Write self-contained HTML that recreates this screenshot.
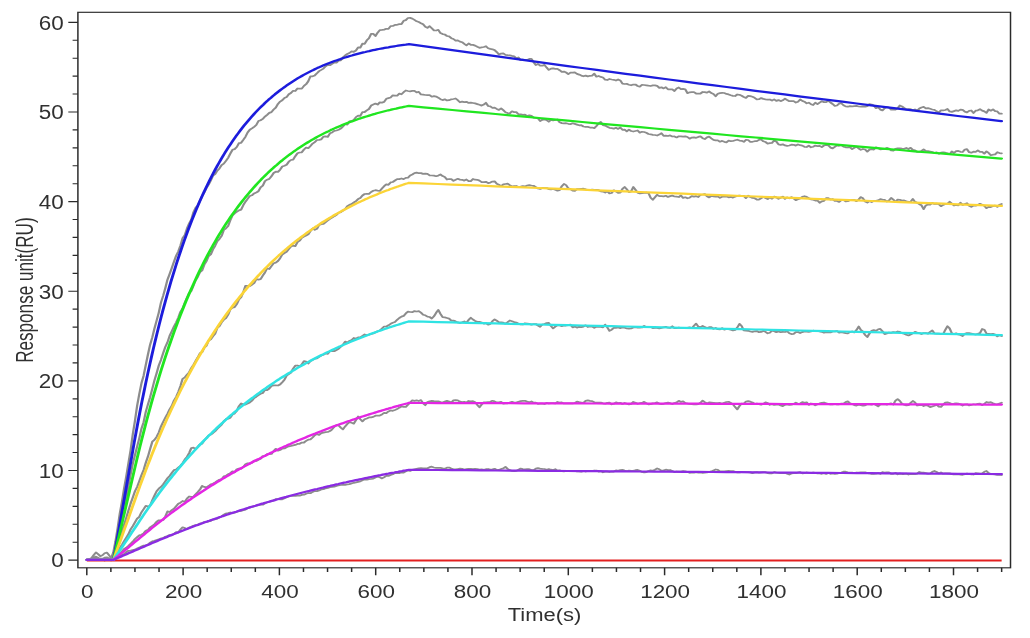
<!DOCTYPE html>
<html lang="en">
<head>
<meta charset="utf-8">
<title>Response unit(RU) vs Time(s)</title>
<style>
html,body{margin:0;padding:0;background:#fff;}
body{width:1030px;height:638px;overflow:hidden;}
svg{display:block;}
</style>
</head>
<body>
<svg width="1030" height="638" viewBox="0 0 1030 638">
<rect width="1030" height="638" fill="#fff"/>
<g>
<g transform="scale(1.290,1)">
<g fill="none" stroke-linejoin="round" stroke-linecap="round">
<path d="M67.66,559.6 L69.34,559.2 L71.02,558.0 L72.70,555.0 L74.38,552.4 L76.06,554.1 L77.74,556.1 L79.42,555.3 L81.10,553.3 L82.78,552.6 L84.46,555.1 L86.14,558.0 L87.82,552.6 L89.50,541.5 L91.18,528.3 L92.85,513.7 L94.53,501.8 L96.21,488.3 L97.89,476.4 L99.57,463.0 L101.25,450.0 L102.93,434.3 L104.61,420.9 L106.29,405.9 L107.97,394.0 L109.65,383.3 L111.33,375.7 L113.01,365.0 L114.69,354.5 L116.37,344.7 L118.05,337.4 L119.73,328.5 L121.41,320.6 L123.09,312.6 L124.77,302.6 L126.45,295.9 L128.13,288.2 L129.81,279.7 L131.49,274.0 L133.17,267.9 L134.85,261.7 L136.53,255.8 L138.21,251.5 L139.89,245.4 L141.56,238.1 L143.24,235.1 L144.92,228.6 L146.60,223.6 L148.28,219.6 L149.96,212.3 L151.64,207.7 L153.32,205.4 L155.00,200.9 L156.68,196.1 L158.36,192.5 L160.04,187.9 L161.72,184.6 L163.40,180.4 L165.08,175.6 L166.76,174.0 L168.44,170.7 L170.12,168.4 L171.80,165.1 L173.48,163.6 L175.16,160.9 L176.84,157.8 L178.52,153.7 L180.20,149.8 L181.88,149.1 L183.56,147.0 L185.24,143.1 L186.92,142.8 L188.59,139.9 L190.27,136.8 L191.95,132.5 L193.63,129.7 L195.31,128.4 L196.99,126.8 L198.67,125.0 L200.35,121.0 L202.03,120.2 L203.71,118.9 L205.39,116.6 L207.07,114.8 L208.75,112.9 L210.43,112.1 L212.11,109.5 L213.79,107.6 L215.47,103.9 L217.15,101.6 L218.83,100.3 L220.51,98.0 L222.19,97.1 L223.87,94.3 L225.55,93.0 L227.23,90.8 L228.91,91.0 L230.59,88.5 L232.27,88.7 L233.95,88.6 L235.63,85.9 L237.30,84.2 L238.98,81.2 L240.66,76.3 L242.34,76.3 L244.02,75.4 L245.70,73.3 L247.38,71.1 L249.06,69.9 L250.74,68.6 L252.42,66.3 L254.10,64.8 L255.78,65.2 L257.46,63.9 L259.14,62.6 L260.82,62.6 L262.50,60.7 L264.18,60.4 L265.86,57.4 L267.54,55.5 L269.22,53.9 L270.90,53.0 L272.58,51.3 L274.26,51.8 L275.94,50.5 L277.62,47.3 L279.30,47.6 L280.98,43.7 L282.66,43.8 L284.34,40.3 L286.01,38.2 L287.69,33.9 L289.37,33.9 L291.05,36.0 L292.73,32.7 L294.41,30.1 L296.09,29.9 L297.77,29.6 L299.45,28.8 L301.13,28.9 L302.81,26.1 L304.49,26.0 L306.17,24.9 L307.85,24.8 L309.53,24.1 L311.21,24.1 L312.89,20.8 L314.57,20.1 L316.25,18.0 L317.93,17.9 L319.61,18.6 L321.29,19.9 L322.97,21.3 L324.65,22.0 L326.33,23.2 L328.01,24.3 L329.69,26.7 L331.37,27.9 L333.04,26.2 L334.72,28.3 L336.40,30.4 L338.08,30.5 L339.76,29.8 L341.44,33.1 L343.12,34.1 L344.80,34.5 L346.48,36.0 L348.16,36.3 L349.84,38.2 L351.52,39.0 L353.20,40.7 L354.88,40.4 L356.56,41.6 L358.24,42.2 L359.92,43.9 L361.60,45.4 L363.28,43.5 L364.96,44.8 L366.64,44.9 L368.32,45.6 L370.00,46.8 L371.68,47.8 L373.36,47.4 L375.04,47.0 L376.72,46.2 L378.40,48.2 L380.08,48.9 L381.75,49.3 L383.43,50.1 L385.11,52.1 L386.79,54.6 L388.47,53.6 L390.15,53.4 L391.83,54.8 L393.51,55.2 L395.19,55.4 L396.87,55.9 L398.55,56.3 L400.23,58.4 L401.91,57.4 L403.59,60.2 L405.27,59.7 L406.95,60.0 L408.63,59.9 L410.31,58.9 L411.99,58.9 L413.67,62.2 L415.35,65.0 L417.03,64.0 L418.71,65.7 L420.39,65.7 L422.07,64.9 L423.75,67.6 L425.43,69.9 L427.11,68.7 L428.79,68.4 L430.46,68.8 L432.14,68.9 L433.82,70.2 L435.50,71.9 L437.18,71.6 L438.86,72.5 L440.54,74.1 L442.22,72.7 L443.90,72.7 L445.58,72.4 L447.26,73.9 L448.94,74.6 L450.62,75.6 L452.30,76.3 L453.98,75.6 L455.66,76.4 L457.34,75.8 L459.02,75.6 L460.70,73.7 L462.38,76.7 L464.06,76.0 L465.74,76.9 L467.42,77.5 L469.10,79.7 L470.78,80.0 L472.46,79.0 L474.14,79.5 L475.82,79.8 L477.49,80.5 L479.17,79.5 L480.85,80.4 L482.53,83.6 L484.21,84.0 L485.89,83.9 L487.57,84.7 L489.25,85.3 L490.93,84.5 L492.61,84.5 L494.29,86.0 L495.97,86.7 L497.65,84.9 L499.33,85.0 L501.01,85.3 L502.69,85.7 L504.37,86.0 L506.05,85.4 L507.73,85.4 L509.41,85.9 L511.09,87.8 L512.77,87.3 L514.45,88.4 L516.13,87.2 L517.81,89.3 L519.49,89.4 L521.17,89.4 L522.85,91.0 L524.53,88.6 L526.20,87.5 L527.88,89.2 L529.56,88.9 L531.24,89.3 L532.92,93.2 L534.60,92.3 L536.28,92.2 L537.96,92.1 L539.64,93.5 L541.32,93.5 L543.00,93.5 L544.68,92.0 L546.36,92.1 L548.04,92.7 L549.72,91.3 L551.40,93.1 L553.08,94.0 L554.76,96.3 L556.44,93.8 L558.12,93.1 L559.80,92.8 L561.48,93.0 L563.16,93.9 L564.84,94.4 L566.52,95.3 L568.20,95.9 L569.88,96.0 L571.56,94.5 L573.24,94.8 L574.91,95.7 L576.59,97.0 L578.27,97.9 L579.95,95.9 L581.63,96.1 L583.31,96.8 L584.99,97.8 L586.67,99.4 L588.35,99.2 L590.03,98.1 L591.71,98.9 L593.39,99.3 L595.07,99.6 L596.75,99.5 L598.43,100.6 L600.11,99.4 L601.79,100.9 L603.47,100.1 L605.15,101.1 L606.83,100.3 L608.51,98.7 L610.19,100.0 L611.87,101.2 L613.55,101.0 L615.23,101.2 L616.91,102.6 L618.59,101.7 L620.27,99.5 L621.94,100.9 L623.62,101.7 L625.30,103.3 L626.98,102.7 L628.66,104.2 L630.34,105.0 L632.02,102.8 L633.70,104.1 L635.38,102.6 L637.06,101.3 L638.74,102.1 L640.42,102.2 L642.10,100.8 L643.78,102.5 L645.46,104.0 L647.14,105.9 L648.82,105.5 L650.50,103.6 L652.18,103.2 L653.86,105.2 L655.54,106.4 L657.22,106.7 L658.90,106.1 L660.58,106.3 L662.26,106.1 L663.94,105.9 L665.62,106.5 L667.30,106.6 L668.98,106.3 L670.65,106.6 L672.33,106.1 L674.01,104.2 L675.69,104.6 L677.37,105.5 L679.05,108.2 L680.73,107.3 L682.41,109.6 L684.09,110.4 L685.77,108.2 L687.45,107.1 L689.13,107.5 L690.81,109.6 L692.49,109.3 L694.17,109.6 L695.85,108.2 L697.53,105.5 L699.21,106.4 L700.89,108.0 L702.57,109.5 L704.25,109.2 L705.93,109.1 L707.61,110.3 L709.29,109.5 L710.97,110.6 L712.65,108.6 L714.33,107.5 L716.01,106.9 L717.69,108.4 L719.36,108.1 L721.04,108.8 L722.72,109.5 L724.40,109.9 L726.08,111.3 L727.76,112.4 L729.44,110.4 L731.12,110.4 L732.80,110.0 L734.48,108.9 L736.16,111.4 L737.84,111.9 L739.52,111.1 L741.20,110.4 L742.88,110.9 L744.56,109.6 L746.24,109.8 L747.92,111.6 L749.60,112.4 L751.28,110.9 L752.96,110.5 L754.64,113.0 L756.32,110.7 L758.00,110.3 L759.68,109.2 L761.36,110.6 L763.04,111.4 L764.72,112.9 L766.39,109.5 L768.07,110.7 L769.75,109.4 L771.43,111.2 L773.11,111.4 L774.79,113.7 L776.47,113.7" stroke="#8c8c8c" stroke-width="1.75"/>
<path d="M67.66,559.8 L69.34,559.5 L71.02,559.3 L72.70,557.6 L74.38,556.6 L76.06,557.8 L77.74,559.6 L79.42,559.3 L81.10,557.7 L82.78,557.3 L84.46,558.5 L86.14,560.4 L87.82,555.7 L89.50,547.3 L91.18,537.5 L92.85,526.9 L94.53,517.3 L96.21,507.6 L97.89,497.4 L99.57,486.1 L101.25,474.7 L102.93,463.9 L104.61,455.1 L106.29,446.6 L107.97,438.3 L109.65,428.7 L111.33,422.2 L113.01,411.9 L114.69,404.4 L116.37,397.2 L118.05,388.9 L119.73,380.4 L121.41,373.2 L123.09,365.5 L124.77,359.9 L126.45,353.2 L128.13,347.0 L129.81,342.4 L131.49,335.9 L133.17,331.3 L134.85,326.5 L136.53,322.6 L138.21,317.7 L139.89,311.8 L141.56,308.5 L143.24,302.7 L144.92,297.7 L146.60,293.1 L148.28,291.0 L149.96,285.8 L151.64,280.3 L153.32,276.8 L155.00,272.2 L156.68,270.4 L158.36,264.7 L160.04,261.2 L161.72,256.1 L163.40,254.4 L165.08,249.4 L166.76,245.8 L168.44,241.3 L170.12,238.9 L171.80,235.9 L173.48,230.0 L175.16,228.3 L176.84,225.9 L178.52,220.3 L180.20,215.4 L181.88,213.4 L183.56,211.7 L185.24,210.4 L186.92,209.6 L188.59,205.2 L190.27,201.7 L191.95,198.9 L193.63,196.0 L195.31,195.3 L196.99,193.4 L198.67,192.5 L200.35,191.2 L202.03,187.3 L203.71,185.7 L205.39,181.1 L207.07,179.7 L208.75,178.9 L210.43,176.3 L212.11,173.0 L213.79,171.7 L215.47,171.9 L217.15,169.7 L218.83,166.5 L220.51,165.7 L222.19,164.7 L223.87,161.7 L225.55,160.0 L227.23,159.6 L228.91,156.2 L230.59,153.3 L232.27,152.5 L233.95,152.3 L235.63,149.5 L237.30,147.6 L238.98,148.2 L240.66,146.0 L242.34,143.6 L244.02,142.1 L245.70,140.0 L247.38,139.8 L249.06,139.3 L250.74,136.6 L252.42,136.4 L254.10,136.8 L255.78,133.3 L257.46,132.4 L259.14,130.9 L260.82,130.5 L262.50,129.7 L264.18,128.6 L265.86,126.5 L267.54,124.0 L269.22,124.6 L270.90,121.4 L272.58,120.9 L274.26,119.9 L275.94,117.1 L277.62,115.7 L279.30,115.8 L280.98,112.0 L282.66,112.0 L284.34,110.4 L286.01,109.0 L287.69,105.6 L289.37,104.6 L291.05,103.6 L292.73,104.6 L294.41,102.4 L296.09,102.6 L297.77,101.9 L299.45,98.8 L301.13,98.1 L302.81,97.5 L304.49,95.3 L306.17,95.6 L307.85,95.7 L309.53,93.6 L311.21,94.3 L312.89,92.2 L314.57,90.5 L316.25,91.0 L317.93,91.3 L319.61,90.9 L321.29,90.8 L322.97,92.3 L324.65,91.9 L326.33,94.5 L328.01,94.7 L329.69,95.0 L331.37,95.2 L333.04,95.1 L334.72,96.7 L336.40,96.1 L338.08,96.6 L339.76,97.7 L341.44,99.2 L343.12,100.1 L344.80,99.3 L346.48,100.4 L348.16,100.2 L349.84,99.3 L351.52,99.0 L353.20,98.5 L354.88,100.2 L356.56,102.3 L358.24,101.6 L359.92,102.1 L361.60,101.8 L363.28,102.9 L364.96,102.6 L366.64,103.0 L368.32,103.4 L370.00,104.1 L371.68,104.8 L373.36,105.6 L375.04,104.6 L376.72,102.8 L378.40,106.0 L380.08,106.4 L381.75,107.8 L383.43,107.7 L385.11,108.9 L386.79,109.9 L388.47,108.4 L390.15,110.1 L391.83,112.2 L393.51,113.1 L395.19,113.4 L396.87,111.3 L398.55,112.1 L400.23,112.1 L401.91,114.2 L403.59,114.3 L405.27,114.9 L406.95,114.7 L408.63,116.0 L410.31,115.3 L411.99,115.8 L413.67,117.6 L415.35,117.9 L417.03,118.4 L418.71,121.0 L420.39,119.8 L422.07,119.3 L423.75,120.1 L425.43,121.7 L427.11,120.0 L428.79,120.4 L430.46,120.0 L432.14,119.5 L433.82,122.3 L435.50,123.1 L437.18,123.4 L438.86,123.2 L440.54,123.8 L442.22,124.1 L443.90,123.3 L445.58,123.9 L447.26,124.6 L448.94,125.3 L450.62,125.2 L452.30,126.5 L453.98,126.9 L455.66,126.9 L457.34,127.5 L459.02,127.5 L460.70,128.1 L462.38,126.0 L464.06,123.4 L465.74,122.0 L467.42,125.1 L469.10,125.6 L470.78,126.7 L472.46,127.8 L474.14,128.2 L475.82,128.6 L477.49,127.8 L479.17,128.9 L480.85,127.5 L482.53,129.8 L484.21,129.6 L485.89,131.4 L487.57,129.7 L489.25,131.0 L490.93,131.5 L492.61,131.0 L494.29,130.5 L495.97,132.6 L497.65,131.8 L499.33,132.0 L501.01,132.7 L502.69,134.0 L504.37,134.3 L506.05,134.9 L507.73,135.0 L509.41,135.5 L511.09,134.6 L512.77,133.2 L514.45,135.9 L516.13,135.7 L517.81,136.0 L519.49,135.4 L521.17,136.5 L522.85,136.4 L524.53,137.4 L526.20,136.3 L527.88,136.3 L529.56,136.7 L531.24,136.4 L532.92,137.0 L534.60,138.7 L536.28,137.6 L537.96,137.4 L539.64,137.8 L541.32,136.9 L543.00,136.3 L544.68,138.2 L546.36,139.1 L548.04,137.4 L549.72,136.6 L551.40,138.3 L553.08,139.8 L554.76,140.3 L556.44,140.4 L558.12,141.7 L559.80,140.9 L561.48,141.8 L563.16,142.3 L564.84,140.6 L566.52,141.2 L568.20,141.0 L569.88,140.3 L571.56,139.7 L573.24,140.6 L574.91,140.8 L576.59,141.8 L578.27,139.9 L579.95,140.0 L581.63,141.8 L583.31,141.8 L584.99,141.2 L586.67,141.2 L588.35,139.8 L590.03,139.5 L591.71,141.3 L593.39,142.0 L595.07,143.6 L596.75,143.2 L598.43,143.0 L600.11,140.4 L601.79,141.5 L603.47,144.4 L605.15,144.8 L606.83,144.3 L608.51,145.4 L610.19,145.8 L611.87,145.5 L613.55,144.7 L615.23,144.8 L616.91,145.6 L618.59,144.5 L620.27,145.2 L621.94,145.6 L623.62,146.8 L625.30,147.0 L626.98,145.7 L628.66,147.3 L630.34,146.7 L632.02,145.6 L633.70,146.1 L635.38,145.9 L637.06,147.1 L638.74,145.5 L640.42,144.8 L642.10,145.3 L643.78,147.6 L645.46,148.4 L647.14,146.8 L648.82,145.3 L650.50,145.8 L652.18,145.2 L653.86,146.7 L655.54,147.3 L657.22,147.5 L658.90,147.2 L660.58,149.1 L662.26,147.8 L663.94,146.7 L665.62,148.5 L667.30,149.8 L668.98,149.0 L670.65,149.5 L672.33,151.6 L674.01,149.7 L675.69,149.2 L677.37,149.6 L679.05,147.3 L680.73,148.0 L682.41,149.3 L684.09,149.2 L685.77,148.9 L687.45,147.9 L689.13,148.5 L690.81,150.5 L692.49,150.7 L694.17,148.8 L695.85,148.4 L697.53,148.3 L699.21,148.6 L700.89,148.8 L702.57,148.0 L704.25,149.0 L705.93,147.8 L707.61,149.9 L709.29,150.4 L710.97,151.9 L712.65,151.8 L714.33,151.0 L716.01,149.5 L717.69,150.9 L719.36,151.1 L721.04,151.5 L722.72,152.1 L724.40,153.0 L726.08,152.3 L727.76,153.7 L729.44,152.7 L731.12,152.3 L732.80,152.7 L734.48,153.4 L736.16,154.1 L737.84,151.4 L739.52,153.0 L741.20,151.1 L742.88,150.9 L744.56,151.8 L746.24,152.0 L747.92,149.6 L749.60,149.2 L751.28,152.2 L752.96,152.7 L754.64,151.7 L756.32,151.8 L758.00,150.3 L759.68,151.9 L761.36,151.8 L763.04,153.6 L764.72,151.4 L766.39,152.9 L768.07,155.3 L769.75,154.7 L771.43,154.4 L773.11,152.2 L774.79,153.1 L776.47,153.4" stroke="#8c8c8c" stroke-width="1.75"/>
<path d="M67.66,559.8 L69.34,559.7 L71.02,559.8 L72.70,558.8 L74.38,559.2 L76.06,559.1 L77.74,558.6 L79.42,559.8 L81.10,560.5 L82.78,559.8 L84.46,558.6 L86.14,559.4 L87.82,556.1 L89.50,549.6 L91.18,543.6 L92.85,538.5 L94.53,531.3 L96.21,524.7 L97.89,517.9 L99.57,510.5 L101.25,503.6 L102.93,497.5 L104.61,491.3 L106.29,487.0 L107.97,481.2 L109.65,475.2 L111.33,470.0 L113.01,462.7 L114.69,456.6 L116.37,449.0 L118.05,441.7 L119.73,439.9 L121.41,436.8 L123.09,432.5 L124.77,426.6 L126.45,422.0 L128.13,417.8 L129.81,413.8 L131.49,409.3 L133.17,405.9 L134.85,400.6 L136.53,397.1 L138.21,392.1 L139.89,385.9 L141.56,378.8 L143.24,377.4 L144.92,374.8 L146.60,372.4 L148.28,368.1 L149.96,364.8 L151.64,361.0 L153.32,357.5 L155.00,353.2 L156.68,352.1 L158.36,347.8 L160.04,345.7 L161.72,340.5 L163.40,339.2 L165.08,336.2 L166.76,333.8 L168.44,327.9 L170.12,326.1 L171.80,322.4 L173.48,319.7 L175.16,318.1 L176.84,314.7 L178.52,309.5 L180.20,307.7 L181.88,307.1 L183.56,304.1 L185.24,299.4 L186.92,297.3 L188.59,292.2 L190.27,285.8 L191.95,285.9 L193.63,286.0 L195.31,284.7 L196.99,283.2 L198.67,279.2 L200.35,279.6 L202.03,279.2 L203.71,275.6 L205.39,272.5 L207.07,268.2 L208.75,269.0 L210.43,266.1 L212.11,263.2 L213.79,262.6 L215.47,261.0 L217.15,258.2 L218.83,254.5 L220.51,253.0 L222.19,251.7 L223.87,249.1 L225.55,246.6 L227.23,245.6 L228.91,246.1 L230.59,242.2 L232.27,240.7 L233.95,237.9 L235.63,236.6 L237.30,235.5 L238.98,234.3 L240.66,231.0 L242.34,228.5 L244.02,229.8 L245.70,228.8 L247.38,225.0 L249.06,224.2 L250.74,224.0 L252.42,222.1 L254.10,220.4 L255.78,218.8 L257.46,217.6 L259.14,216.2 L260.82,214.9 L262.50,212.8 L264.18,212.1 L265.86,210.6 L267.54,209.1 L269.22,206.2 L270.90,204.9 L272.58,204.1 L274.26,202.5 L275.94,201.1 L277.62,199.1 L279.30,198.0 L280.98,195.5 L282.66,194.0 L284.34,193.9 L286.01,193.8 L287.69,192.0 L289.37,190.8 L291.05,190.2 L292.73,190.7 L294.41,190.9 L296.09,188.5 L297.77,186.2 L299.45,184.3 L301.13,184.8 L302.81,182.4 L304.49,182.0 L306.17,180.5 L307.85,179.1 L309.53,179.1 L311.21,178.5 L312.89,179.1 L314.57,177.9 L316.25,177.7 L317.93,175.4 L319.61,174.5 L321.29,173.1 L322.97,172.6 L324.65,173.2 L326.33,173.1 L328.01,173.9 L329.69,173.6 L331.37,173.8 L333.04,175.3 L334.72,175.5 L336.40,175.6 L338.08,176.2 L339.76,175.6 L341.44,174.5 L343.12,176.1 L344.80,177.0 L346.48,179.5 L348.16,179.0 L349.84,179.1 L351.52,180.9 L353.20,179.7 L354.88,178.8 L356.56,179.6 L358.24,179.8 L359.92,180.6 L361.60,179.5 L363.28,181.2 L364.96,181.1 L366.64,179.0 L368.32,179.7 L370.00,179.8 L371.68,180.6 L373.36,182.1 L375.04,182.1 L376.72,181.8 L378.40,183.1 L380.08,182.6 L381.75,181.6 L383.43,181.3 L385.11,183.8 L386.79,184.8 L388.47,186.1 L390.15,184.4 L391.83,184.0 L393.51,183.7 L395.19,185.2 L396.87,186.5 L398.55,186.1 L400.23,186.0 L401.91,187.0 L403.59,186.7 L405.27,186.2 L406.95,186.4 L408.63,185.5 L410.31,185.1 L411.99,185.5 L413.67,185.8 L415.35,187.1 L417.03,188.5 L418.71,188.9 L420.39,187.9 L422.07,188.0 L423.75,188.0 L425.43,189.1 L427.11,189.4 L428.79,188.9 L430.46,189.8 L432.14,190.6 L433.82,190.2 L435.50,186.2 L437.18,183.9 L438.86,185.1 L440.54,188.3 L442.22,189.1 L443.90,190.6 L445.58,190.8 L447.26,189.1 L448.94,189.1 L450.62,188.8 L452.30,188.7 L453.98,189.4 L455.66,190.0 L457.34,190.2 L459.02,189.7 L460.70,189.8 L462.38,189.8 L464.06,190.2 L465.74,191.3 L467.42,191.6 L469.10,192.5 L470.78,191.2 L472.46,193.4 L474.14,193.0 L475.82,190.3 L477.49,191.4 L479.17,192.8 L480.85,192.7 L482.53,188.9 L484.21,187.0 L485.89,189.2 L487.57,192.1 L489.25,191.4 L490.93,187.0 L492.61,189.7 L494.29,192.6 L495.97,193.4 L497.65,193.1 L499.33,193.0 L501.01,192.6 L502.69,193.0 L504.37,197.7 L506.05,199.8 L507.73,197.3 L509.41,194.8 L511.09,196.2 L512.77,196.2 L514.45,196.4 L516.13,195.8 L517.81,196.9 L519.49,196.1 L521.17,195.6 L522.85,196.5 L524.53,196.6 L526.20,197.0 L527.88,195.5 L529.56,197.9 L531.24,197.3 L532.92,198.3 L534.60,197.7 L536.28,196.1 L537.96,196.6 L539.64,196.2 L541.32,197.0 L543.00,194.8 L544.68,194.5 L546.36,194.1 L548.04,196.3 L549.72,197.4 L551.40,196.0 L553.08,196.4 L554.76,196.7 L556.44,196.4 L558.12,197.8 L559.80,196.7 L561.48,196.7 L563.16,196.4 L564.84,197.3 L566.52,196.8 L568.20,197.6 L569.88,196.6 L571.56,195.8 L573.24,195.6 L574.91,195.9 L576.59,195.9 L578.27,198.1 L579.95,195.7 L581.63,197.0 L583.31,197.9 L584.99,198.2 L586.67,199.5 L588.35,199.5 L590.03,198.3 L591.71,196.9 L593.39,198.1 L595.07,199.1 L596.75,197.4 L598.43,198.7 L600.11,196.6 L601.79,197.4 L603.47,198.8 L605.15,197.8 L606.83,196.6 L608.51,198.9 L610.19,197.4 L611.87,198.3 L613.55,197.2 L615.23,198.3 L616.91,200.2 L618.59,199.3 L620.27,198.4 L621.94,196.8 L623.62,196.2 L625.30,196.9 L626.98,198.2 L628.66,199.3 L630.34,199.7 L632.02,200.5 L633.70,200.5 L635.38,202.7 L637.06,201.4 L638.74,200.9 L640.42,198.1 L642.10,198.2 L643.78,199.5 L645.46,199.2 L647.14,200.9 L648.82,200.9 L650.50,201.9 L652.18,200.1 L653.86,199.9 L655.54,201.4 L657.22,201.2 L658.90,200.1 L660.58,199.9 L662.26,199.9 L663.94,201.2 L665.62,199.6 L667.30,197.1 L668.98,198.3 L670.65,201.5 L672.33,202.5 L674.01,201.0 L675.69,202.1 L677.37,200.8 L679.05,200.9 L680.73,200.4 L682.41,199.2 L684.09,199.6 L685.77,199.8 L687.45,201.5 L689.13,200.5 L690.81,197.9 L692.49,199.6 L694.17,201.9 L695.85,199.6 L697.53,199.8 L699.21,200.6 L700.89,200.4 L702.57,201.3 L704.25,201.9 L705.93,201.6 L707.61,199.0 L709.29,201.9 L710.97,202.7 L712.65,204.2 L714.33,205.3 L716.01,209.1 L717.69,205.4 L719.36,204.5 L721.04,204.5 L722.72,202.9 L724.40,203.9 L726.08,203.7 L727.76,204.1 L729.44,206.2 L731.12,204.9 L732.80,204.0 L734.48,203.9 L736.16,201.8 L737.84,203.7 L739.52,205.5 L741.20,204.9 L742.88,205.3 L744.56,202.7 L746.24,204.9 L747.92,204.0 L749.60,203.2 L751.28,205.7 L752.96,206.9 L754.64,205.5 L756.32,205.7 L758.00,205.0 L759.68,203.8 L761.36,204.7 L763.04,205.8 L764.72,208.2 L766.39,206.8 L768.07,207.1 L769.75,206.1 L771.43,205.6 L773.11,206.9 L774.79,204.7 L776.47,204.0" stroke="#8c8c8c" stroke-width="1.75"/>
<path d="M67.66,559.8 L69.34,559.6 L71.02,560.1 L72.70,560.0 L74.38,560.0 L76.06,559.7 L77.74,559.6 L79.42,559.6 L81.10,559.8 L82.78,559.6 L84.46,559.6 L86.14,560.1 L87.82,558.7 L89.50,556.0 L91.18,550.9 L92.85,548.0 L94.53,544.8 L96.21,541.1 L97.89,537.7 L99.57,534.2 L101.25,529.4 L102.93,526.2 L104.61,522.4 L106.29,518.7 L107.97,516.8 L109.65,512.3 L111.33,509.2 L113.01,505.8 L114.69,506.6 L116.37,505.7 L118.05,500.3 L119.73,495.6 L121.41,491.2 L123.09,488.7 L124.77,486.9 L126.45,484.4 L128.13,481.3 L129.81,478.3 L131.49,475.9 L133.17,473.0 L134.85,470.1 L136.53,469.5 L138.21,467.6 L139.89,465.8 L141.56,463.1 L143.24,459.5 L144.92,456.9 L146.60,453.1 L148.28,448.1 L149.96,447.7 L151.64,448.9 L153.32,446.7 L155.00,444.3 L156.68,443.6 L158.36,440.3 L160.04,437.9 L161.72,435.5 L163.40,434.5 L165.08,433.0 L166.76,431.2 L168.44,428.7 L170.12,426.6 L171.80,424.6 L173.48,421.4 L175.16,419.2 L176.84,418.7 L178.52,417.7 L180.20,414.5 L181.88,413.4 L183.56,410.7 L185.24,406.1 L186.92,403.5 L188.59,404.3 L190.27,404.6 L191.95,403.6 L193.63,402.5 L195.31,400.7 L196.99,398.0 L198.67,396.7 L200.35,395.1 L202.03,393.8 L203.71,393.0 L205.39,389.8 L207.07,390.1 L208.75,388.5 L210.43,386.0 L212.11,385.4 L213.79,385.4 L215.47,385.5 L217.15,384.4 L218.83,382.2 L220.51,379.7 L222.19,375.6 L223.87,374.2 L225.55,372.7 L227.23,368.6 L228.91,365.7 L230.59,365.5 L232.27,366.2 L233.95,364.5 L235.63,361.1 L237.30,361.5 L238.98,363.5 L240.66,361.0 L242.34,359.9 L244.02,358.6 L245.70,358.3 L247.38,356.9 L249.06,355.5 L250.74,354.7 L252.42,353.4 L254.10,353.9 L255.78,351.1 L257.46,350.9 L259.14,351.2 L260.82,350.1 L262.50,348.8 L264.18,346.7 L265.86,344.7 L267.54,341.6 L269.22,342.6 L270.90,340.9 L272.58,340.0 L274.26,338.0 L275.94,338.7 L277.62,337.4 L279.30,337.4 L280.98,335.9 L282.66,334.5 L284.34,335.0 L286.01,334.6 L287.69,334.0 L289.37,333.5 L291.05,332.3 L292.73,331.2 L294.41,330.5 L296.09,328.5 L297.77,326.5 L299.45,326.4 L301.13,325.3 L302.81,323.8 L304.49,322.7 L306.17,322.0 L307.85,319.8 L309.53,318.0 L311.21,316.6 L312.89,315.9 L314.57,313.4 L316.25,311.6 L317.93,312.0 L319.61,312.2 L321.29,311.1 L322.97,311.5 L324.65,311.1 L326.33,312.6 L328.01,314.7 L329.69,315.3 L331.37,316.7 L333.04,317.0 L334.72,318.5 L336.40,316.3 L338.08,312.8 L339.76,309.9 L341.44,313.9 L343.12,317.2 L344.80,317.4 L346.48,318.0 L348.16,318.6 L349.84,320.6 L351.52,320.6 L353.20,321.4 L354.88,322.4 L356.56,323.0 L358.24,322.3 L359.92,321.4 L361.60,322.8 L363.28,319.9 L364.96,317.8 L366.64,319.5 L368.32,320.9 L370.00,321.8 L371.68,321.9 L373.36,322.6 L375.04,323.6 L376.72,323.1 L378.40,324.7 L380.08,323.9 L381.75,321.1 L383.43,319.4 L385.11,320.7 L386.79,322.4 L388.47,322.3 L390.15,322.7 L391.83,323.7 L393.51,322.2 L395.19,320.5 L396.87,321.2 L398.55,322.1 L400.23,322.5 L401.91,323.7 L403.59,324.4 L405.27,324.5 L406.95,323.3 L408.63,323.5 L410.31,323.9 L411.99,324.7 L413.67,324.0 L415.35,324.0 L417.03,325.5 L418.71,326.8 L420.39,324.5 L422.07,324.0 L423.75,323.1 L425.43,322.9 L427.11,326.1 L428.79,328.4 L430.46,326.7 L432.14,325.3 L433.82,325.5 L435.50,326.1 L437.18,325.5 L438.86,325.5 L440.54,325.1 L442.22,324.6 L443.90,327.4 L445.58,326.5 L447.26,327.6 L448.94,326.8 L450.62,327.1 L452.30,326.6 L453.98,325.3 L455.66,327.0 L457.34,326.5 L459.02,326.5 L460.70,327.8 L462.38,326.8 L464.06,326.6 L465.74,327.0 L467.42,327.4 L469.10,324.6 L470.78,327.4 L472.46,330.9 L474.14,329.7 L475.82,327.8 L477.49,327.8 L479.17,327.5 L480.85,328.1 L482.53,327.3 L484.21,327.7 L485.89,328.5 L487.57,328.7 L489.25,328.5 L490.93,327.4 L492.61,327.1 L494.29,327.6 L495.97,327.6 L497.65,327.5 L499.33,326.0 L501.01,327.2 L502.69,327.2 L504.37,326.9 L506.05,328.1 L507.73,328.0 L509.41,327.9 L511.09,328.4 L512.77,327.9 L514.45,327.3 L516.13,326.9 L517.81,327.7 L519.49,327.9 L521.17,326.3 L522.85,328.1 L524.53,328.1 L526.20,327.7 L527.88,328.0 L529.56,327.8 L531.24,328.1 L532.92,327.8 L534.60,327.3 L536.28,328.2 L537.96,325.8 L539.64,323.6 L541.32,326.7 L543.00,327.1 L544.68,325.9 L546.36,327.1 L548.04,328.0 L549.72,327.2 L551.40,327.2 L553.08,328.8 L554.76,328.0 L556.44,329.2 L558.12,329.4 L559.80,328.1 L561.48,329.6 L563.16,329.0 L564.84,329.1 L566.52,329.6 L568.20,330.4 L569.88,329.9 L571.56,327.5 L573.24,323.9 L574.91,326.0 L576.59,330.4 L578.27,330.7 L579.95,330.8 L581.63,331.5 L583.31,331.9 L584.99,331.3 L586.67,331.1 L588.35,332.2 L590.03,331.9 L591.71,331.0 L593.39,331.8 L595.07,333.3 L596.75,332.7 L598.43,330.7 L600.11,331.3 L601.79,332.2 L603.47,331.4 L605.15,332.2 L606.83,331.9 L608.51,332.0 L610.19,331.2 L611.87,333.2 L613.55,334.1 L615.23,333.9 L616.91,332.1 L618.59,332.0 L620.27,333.1 L621.94,332.1 L623.62,331.4 L625.30,331.7 L626.98,331.9 L628.66,331.5 L630.34,330.7 L632.02,331.0 L633.70,330.9 L635.38,331.3 L637.06,331.8 L638.74,332.6 L640.42,332.1 L642.10,332.3 L643.78,332.4 L645.46,331.5 L647.14,331.4 L648.82,331.0 L650.50,332.7 L652.18,332.1 L653.86,332.6 L655.54,333.1 L657.22,333.4 L658.90,332.1 L660.58,331.5 L662.26,332.4 L663.94,330.1 L665.62,326.5 L667.30,329.9 L668.98,331.6 L670.65,335.0 L672.33,337.0 L674.01,333.5 L675.69,330.8 L677.37,330.1 L679.05,330.8 L680.73,329.4 L682.41,328.9 L684.09,331.2 L685.77,334.1 L687.45,333.4 L689.13,332.6 L690.81,332.9 L692.49,332.1 L694.17,332.4 L695.85,331.5 L697.53,331.9 L699.21,333.2 L700.89,333.7 L702.57,334.7 L704.25,335.4 L705.93,334.4 L707.61,333.3 L709.29,331.8 L710.97,332.5 L712.65,333.0 L714.33,334.1 L716.01,333.1 L717.69,333.0 L719.36,333.6 L721.04,331.9 L722.72,330.5 L724.40,333.4 L726.08,333.7 L727.76,333.6 L729.44,334.0 L731.12,334.2 L732.80,329.8 L734.48,326.2 L736.16,328.4 L737.84,333.3 L739.52,334.0 L741.20,333.3 L742.88,334.5 L744.56,334.9 L746.24,336.0 L747.92,333.8 L749.60,333.1 L751.28,333.2 L752.96,333.5 L754.64,334.1 L756.32,334.5 L758.00,333.9 L759.68,333.1 L761.36,329.0 L763.04,329.7 L764.72,333.5 L766.39,333.8 L768.07,334.2 L769.75,333.9 L771.43,334.5 L773.11,336.3 L774.79,335.2 L776.47,336.0" stroke="#8c8c8c" stroke-width="1.75"/>
<path d="M67.66,559.4 L69.34,559.4 L71.02,558.8 L72.70,558.1 L74.38,557.8 L76.06,558.8 L77.74,558.5 L79.42,558.5 L81.10,559.0 L82.78,559.2 L84.46,559.0 L86.14,559.3 L87.82,557.9 L89.50,556.1 L91.18,555.7 L92.85,554.1 L94.53,551.5 L96.21,549.0 L97.89,547.8 L99.57,545.8 L101.25,543.7 L102.93,541.6 L104.61,539.0 L106.29,537.2 L107.97,535.4 L109.65,534.7 L111.33,533.3 L113.01,530.7 L114.69,529.9 L116.37,527.3 L118.05,525.8 L119.73,524.3 L121.41,521.6 L123.09,520.3 L124.77,520.3 L126.45,520.0 L128.13,516.6 L129.81,511.4 L131.49,512.0 L133.17,510.2 L134.85,508.7 L136.53,506.3 L138.21,503.8 L139.89,502.7 L141.56,501.0 L143.24,501.9 L144.92,498.6 L146.60,496.5 L148.28,496.9 L149.96,496.8 L151.64,494.2 L153.32,492.1 L155.00,489.6 L156.68,485.9 L158.36,486.9 L160.04,487.4 L161.72,486.0 L163.40,484.3 L165.08,483.7 L166.76,482.4 L168.44,481.0 L170.12,479.7 L171.80,479.1 L173.48,476.4 L175.16,475.9 L176.84,474.2 L178.52,473.2 L180.20,471.3 L181.88,472.3 L183.56,469.2 L185.24,468.6 L186.92,468.6 L188.59,467.1 L190.27,464.2 L191.95,463.3 L193.63,463.6 L195.31,462.8 L196.99,460.6 L198.67,460.9 L200.35,459.8 L202.03,458.8 L203.71,456.0 L205.39,455.8 L207.07,454.1 L208.75,454.2 L210.43,454.0 L212.11,451.1 L213.79,448.8 L215.47,450.6 L217.15,450.0 L218.83,448.6 L220.51,448.4 L222.19,447.3 L223.87,446.3 L225.55,445.9 L227.23,445.4 L228.91,444.9 L230.59,443.9 L232.27,443.8 L233.95,442.5 L235.63,442.5 L237.30,440.9 L238.98,439.7 L240.66,439.4 L242.34,437.5 L244.02,435.2 L245.70,433.9 L247.38,434.9 L249.06,433.1 L250.74,432.6 L252.42,432.1 L254.10,432.0 L255.78,431.1 L257.46,429.3 L259.14,426.8 L260.82,425.0 L262.50,425.5 L264.18,427.6 L265.86,429.4 L267.54,426.4 L269.22,423.9 L270.90,422.1 L272.58,422.8 L274.26,423.7 L275.94,420.1 L277.62,416.5 L279.30,419.3 L280.98,421.4 L282.66,419.3 L284.34,418.4 L286.01,417.4 L287.69,417.3 L289.37,416.9 L291.05,415.7 L292.73,415.5 L294.41,415.5 L296.09,414.4 L297.77,412.9 L299.45,413.1 L301.13,411.4 L302.81,410.4 L304.49,410.8 L306.17,410.0 L307.85,409.1 L309.53,407.7 L311.21,406.5 L312.89,406.9 L314.57,406.9 L316.25,404.7 L317.93,402.5 L319.61,400.3 L321.29,400.8 L322.97,400.4 L324.65,401.0 L326.33,400.1 L328.01,403.4 L329.69,405.2 L331.37,402.0 L333.04,401.3 L334.72,400.9 L336.40,401.2 L338.08,401.4 L339.76,401.3 L341.44,402.1 L343.12,402.5 L344.80,401.6 L346.48,400.9 L348.16,401.5 L349.84,402.6 L351.52,400.4 L353.20,400.1 L354.88,400.4 L356.56,401.7 L358.24,402.1 L359.92,401.8 L361.60,402.5 L363.28,401.0 L364.96,401.3 L366.64,401.2 L368.32,402.3 L370.00,404.9 L371.68,407.3 L373.36,404.5 L375.04,402.4 L376.72,402.4 L378.40,402.0 L380.08,401.8 L381.75,400.8 L383.43,401.4 L385.11,402.4 L386.79,402.3 L388.47,401.9 L390.15,403.6 L391.83,403.3 L393.51,403.3 L395.19,402.5 L396.87,401.8 L398.55,402.6 L400.23,402.6 L401.91,401.7 L403.59,401.1 L405.27,400.9 L406.95,400.8 L408.63,401.6 L410.31,402.2 L411.99,401.5 L413.67,402.7 L415.35,402.6 L417.03,403.9 L418.71,403.6 L420.39,403.6 L422.07,404.0 L423.75,402.9 L425.43,403.3 L427.11,403.2 L428.79,403.1 L430.46,403.4 L432.14,402.0 L433.82,402.6 L435.50,402.4 L437.18,403.4 L438.86,403.4 L440.54,403.3 L442.22,403.3 L443.90,403.4 L445.58,403.0 L447.26,401.7 L448.94,402.2 L450.62,402.5 L452.30,402.8 L453.98,400.9 L455.66,400.4 L457.34,400.9 L459.02,401.1 L460.70,402.3 L462.38,402.6 L464.06,402.5 L465.74,402.5 L467.42,403.3 L469.10,403.7 L470.78,402.9 L472.46,402.7 L474.14,404.3 L475.82,403.7 L477.49,402.4 L479.17,403.1 L480.85,402.8 L482.53,403.9 L484.21,402.9 L485.89,403.8 L487.57,404.4 L489.25,404.0 L490.93,401.9 L492.61,402.8 L494.29,403.8 L495.97,403.2 L497.65,402.9 L499.33,401.8 L501.01,403.2 L502.69,404.3 L504.37,404.1 L506.05,403.4 L507.73,403.0 L509.41,402.3 L511.09,403.7 L512.77,404.1 L514.45,403.8 L516.13,403.0 L517.81,402.7 L519.49,403.2 L521.17,404.0 L522.85,403.0 L524.53,402.4 L526.20,400.8 L527.88,401.9 L529.56,401.3 L531.24,403.0 L532.92,403.5 L534.60,404.0 L536.28,404.1 L537.96,404.4 L539.64,404.4 L541.32,404.1 L543.00,402.7 L544.68,400.6 L546.36,402.1 L548.04,403.5 L549.72,402.4 L551.40,402.6 L553.08,402.8 L554.76,403.1 L556.44,403.2 L558.12,402.9 L559.80,403.8 L561.48,402.8 L563.16,402.0 L564.84,401.8 L566.52,402.9 L568.20,404.4 L569.88,407.1 L571.56,409.4 L573.24,406.0 L574.91,403.6 L576.59,403.8 L578.27,401.5 L579.95,401.2 L581.63,401.7 L583.31,402.5 L584.99,404.0 L586.67,403.7 L588.35,404.2 L590.03,404.7 L591.71,403.8 L593.39,402.3 L595.07,403.0 L596.75,404.8 L598.43,404.2 L600.11,404.9 L601.79,404.7 L603.47,404.6 L605.15,405.5 L606.83,406.1 L608.51,404.9 L610.19,404.4 L611.87,404.9 L613.55,404.6 L615.23,403.9 L616.91,402.6 L618.59,403.8 L620.27,403.5 L621.94,402.1 L623.62,402.9 L625.30,402.3 L626.98,404.9 L628.66,403.5 L630.34,403.8 L632.02,405.3 L633.70,404.3 L635.38,403.4 L637.06,402.8 L638.74,402.5 L640.42,403.2 L642.10,404.1 L643.78,404.5 L645.46,404.4 L647.14,404.0 L648.82,404.4 L650.50,404.3 L652.18,403.6 L653.86,403.6 L655.54,402.1 L657.22,401.4 L658.90,403.4 L660.58,404.1 L662.26,405.1 L663.94,405.6 L665.62,404.7 L667.30,405.2 L668.98,405.6 L670.65,405.3 L672.33,404.3 L674.01,404.5 L675.69,404.7 L677.37,403.8 L679.05,405.0 L680.73,406.3 L682.41,404.5 L684.09,404.4 L685.77,404.2 L687.45,404.7 L689.13,403.8 L690.81,403.4 L692.49,404.5 L694.17,400.7 L695.85,399.1 L697.53,400.9 L699.21,403.8 L700.89,404.7 L702.57,405.4 L704.25,405.2 L705.93,402.8 L707.61,401.0 L709.29,402.4 L710.97,405.5 L712.65,405.1 L714.33,404.8 L716.01,406.0 L717.69,405.2 L719.36,405.8 L721.04,407.1 L722.72,406.5 L724.40,405.8 L726.08,404.6 L727.76,406.6 L729.44,406.9 L731.12,404.6 L732.80,402.7 L734.48,402.4 L736.16,403.0 L737.84,404.0 L739.52,403.7 L741.20,403.3 L742.88,403.6 L744.56,404.2 L746.24,405.5 L747.92,404.6 L749.60,404.3 L751.28,405.4 L752.96,405.0 L754.64,404.3 L756.32,404.5 L758.00,403.9 L759.68,403.6 L761.36,405.1 L763.04,403.9 L764.72,402.0 L766.39,402.6 L768.07,402.2 L769.75,403.3 L771.43,404.1 L773.11,404.3 L774.79,403.5 L776.47,402.7" stroke="#8c8c8c" stroke-width="1.75"/>
<path d="M67.66,559.8 L69.34,559.8 L71.02,559.9 L72.70,559.5 L74.38,559.7 L76.06,559.6 L77.74,559.4 L79.42,559.7 L81.10,559.3 L82.78,559.0 L84.46,559.2 L86.14,559.8 L87.82,559.7 L89.50,558.0 L91.18,556.8 L92.85,556.4 L94.53,554.9 L96.21,554.0 L97.89,552.0 L99.57,550.8 L101.25,550.7 L102.93,550.2 L104.61,549.7 L106.29,548.6 L107.97,547.6 L109.65,546.4 L111.33,545.5 L113.01,545.3 L114.69,544.5 L116.37,542.7 L118.05,541.4 L119.73,540.8 L121.41,540.0 L123.09,539.3 L124.77,538.4 L126.45,538.2 L128.13,536.7 L129.81,536.1 L131.49,535.1 L133.17,535.3 L134.85,533.9 L136.53,532.2 L138.21,532.5 L139.89,529.5 L141.56,527.3 L143.24,528.1 L144.92,529.2 L146.60,527.5 L148.28,526.7 L149.96,525.7 L151.64,525.1 L153.32,524.8 L155.00,523.5 L156.68,523.2 L158.36,522.0 L160.04,522.0 L161.72,521.4 L163.40,521.0 L165.08,519.3 L166.76,519.3 L168.44,518.7 L170.12,517.3 L171.80,516.4 L173.48,514.7 L175.16,513.5 L176.84,513.1 L178.52,512.5 L180.20,513.0 L181.88,512.6 L183.56,511.8 L185.24,511.1 L186.92,510.9 L188.59,510.3 L190.27,509.6 L191.95,508.1 L193.63,507.3 L195.31,506.8 L196.99,506.3 L198.67,505.4 L200.35,505.2 L202.03,504.6 L203.71,504.7 L205.39,503.4 L207.07,502.3 L208.75,501.7 L210.43,501.1 L212.11,500.5 L213.79,499.2 L215.47,499.0 L217.15,499.4 L218.83,499.3 L220.51,498.2 L222.19,497.2 L223.87,496.5 L225.55,495.9 L227.23,495.6 L228.91,495.9 L230.59,495.6 L232.27,495.7 L233.95,494.9 L235.63,494.7 L237.30,493.7 L238.98,493.0 L240.66,493.2 L242.34,491.9 L244.02,491.0 L245.70,491.1 L247.38,490.4 L249.06,489.5 L250.74,489.2 L252.42,488.3 L254.10,487.9 L255.78,487.1 L257.46,486.8 L259.14,486.6 L260.82,486.0 L262.50,485.3 L264.18,485.0 L265.86,484.9 L267.54,484.8 L269.22,484.4 L270.90,484.1 L272.58,483.4 L274.26,482.8 L275.94,482.4 L277.62,481.9 L279.30,481.4 L280.98,480.2 L282.66,479.5 L284.34,479.7 L286.01,479.1 L287.69,479.0 L289.37,478.6 L291.05,477.5 L292.73,476.6 L294.41,477.3 L296.09,478.4 L297.77,477.2 L299.45,475.9 L301.13,475.9 L302.81,475.0 L304.49,474.2 L306.17,473.0 L307.85,473.2 L309.53,473.1 L311.21,472.3 L312.89,472.6 L314.57,471.3 L316.25,470.4 L317.93,470.9 L319.61,469.8 L321.29,469.3 L322.97,468.8 L324.65,468.3 L326.33,468.2 L328.01,468.4 L329.69,468.3 L331.37,468.3 L333.04,467.2 L334.72,466.7 L336.40,467.5 L338.08,467.9 L339.76,467.9 L341.44,467.8 L343.12,468.3 L344.80,468.7 L346.48,467.7 L348.16,467.6 L349.84,468.6 L351.52,469.4 L353.20,469.4 L354.88,469.0 L356.56,468.7 L358.24,468.9 L359.92,469.6 L361.60,469.2 L363.28,468.8 L364.96,468.9 L366.64,469.2 L368.32,468.9 L370.00,469.0 L371.68,469.6 L373.36,469.4 L375.04,469.9 L376.72,469.2 L378.40,469.0 L380.08,469.6 L381.75,469.4 L383.43,468.8 L385.11,470.0 L386.79,469.9 L388.47,469.0 L390.15,468.4 L391.83,466.9 L393.51,468.9 L395.19,470.1 L396.87,471.0 L398.55,471.2 L400.23,470.9 L401.91,469.7 L403.59,468.6 L405.27,469.1 L406.95,469.3 L408.63,469.2 L410.31,469.2 L411.99,470.0 L413.67,470.1 L415.35,468.7 L417.03,468.2 L418.71,468.6 L420.39,468.9 L422.07,469.0 L423.75,469.7 L425.43,469.1 L427.11,469.7 L428.79,470.0 L430.46,469.2 L432.14,470.6 L433.82,470.4 L435.50,471.2 L437.18,471.3 L438.86,471.0 L440.54,471.0 L442.22,470.8 L443.90,471.1 L445.58,471.0 L447.26,471.4 L448.94,471.3 L450.62,471.7 L452.30,471.0 L453.98,471.5 L455.66,470.9 L457.34,471.0 L459.02,471.1 L460.70,470.5 L462.38,470.6 L464.06,471.6 L465.74,471.1 L467.42,472.3 L469.10,471.7 L470.78,471.6 L472.46,472.0 L474.14,471.5 L475.82,471.5 L477.49,470.4 L479.17,470.9 L480.85,470.1 L482.53,469.9 L484.21,470.6 L485.89,471.2 L487.57,470.6 L489.25,470.9 L490.93,470.9 L492.61,470.2 L494.29,469.9 L495.97,470.8 L497.65,472.0 L499.33,472.4 L501.01,472.1 L502.69,471.0 L504.37,470.4 L506.05,470.8 L507.73,469.7 L509.41,468.4 L511.09,469.3 L512.77,470.7 L514.45,470.4 L516.13,469.7 L517.81,470.1 L519.49,470.0 L521.17,470.9 L522.85,472.1 L524.53,471.5 L526.20,471.6 L527.88,471.6 L529.56,471.0 L531.24,471.3 L532.92,472.0 L534.60,472.8 L536.28,472.4 L537.96,472.7 L539.64,472.2 L541.32,472.6 L543.00,472.5 L544.68,472.9 L546.36,472.6 L548.04,472.5 L549.72,472.0 L551.40,471.4 L553.08,470.4 L554.76,469.5 L556.44,469.9 L558.12,471.4 L559.80,471.3 L561.48,471.3 L563.16,471.0 L564.84,470.9 L566.52,471.1 L568.20,471.1 L569.88,471.9 L571.56,472.3 L573.24,472.3 L574.91,472.2 L576.59,472.2 L578.27,472.1 L579.95,472.1 L581.63,472.4 L583.31,473.1 L584.99,472.4 L586.67,472.1 L588.35,472.6 L590.03,472.3 L591.71,472.1 L593.39,472.2 L595.07,473.1 L596.75,473.4 L598.43,473.3 L600.11,472.2 L601.79,472.7 L603.47,472.8 L605.15,473.2 L606.83,473.2 L608.51,472.8 L610.19,473.7 L611.87,474.5 L613.55,473.5 L615.23,473.1 L616.91,473.2 L618.59,472.6 L620.27,472.2 L621.94,473.4 L623.62,473.2 L625.30,472.5 L626.98,472.9 L628.66,473.0 L630.34,472.5 L632.02,472.8 L633.70,473.3 L635.38,473.5 L637.06,473.8 L638.74,473.2 L640.42,473.9 L642.10,473.0 L643.78,473.8 L645.46,473.4 L647.14,473.9 L648.82,473.7 L650.50,472.9 L652.18,472.5 L653.86,471.7 L655.54,471.7 L657.22,472.3 L658.90,472.7 L660.58,472.6 L662.26,473.0 L663.94,472.5 L665.62,472.6 L667.30,472.3 L668.98,472.4 L670.65,472.4 L672.33,473.1 L674.01,473.3 L675.69,473.9 L677.37,473.8 L679.05,473.7 L680.73,473.1 L682.41,473.8 L684.09,472.1 L685.77,472.7 L687.45,472.4 L689.13,472.3 L690.81,473.9 L692.49,473.8 L694.17,473.0 L695.85,474.3 L697.53,473.6 L699.21,474.0 L700.89,474.0 L702.57,473.7 L704.25,474.5 L705.93,474.0 L707.61,474.1 L709.29,474.2 L710.97,473.6 L712.65,472.0 L714.33,472.5 L716.01,472.7 L717.69,473.1 L719.36,473.6 L721.04,473.5 L722.72,471.8 L724.40,471.0 L726.08,471.9 L727.76,473.4 L729.44,472.4 L731.12,473.7 L732.80,473.4 L734.48,473.3 L736.16,473.4 L737.84,474.1 L739.52,474.5 L741.20,474.3 L742.88,474.1 L744.56,474.6 L746.24,474.8 L747.92,474.2 L749.60,473.6 L751.28,474.0 L752.96,474.3 L754.64,474.5 L756.32,473.2 L758.00,473.3 L759.68,473.6 L761.36,473.3 L763.04,471.8 L764.72,471.0 L766.39,473.1 L768.07,474.0 L769.75,474.2 L771.43,474.3 L773.11,474.8 L774.79,474.7 L776.47,475.0" stroke="#8c8c8c" stroke-width="1.75"/>
<path d="M67.29,560.5 L776.47,560.5" stroke="#e32020" stroke-linecap="butt" stroke-width="1.90"/>
<path d="M67.29,559.8 L88.00,559.8 L89.12,551.6 L90.62,540.7 L92.11,529.7 L93.60,518.8 L95.09,507.9 L96.59,497.0 L98.08,486.0 L99.57,475.1 L101.07,464.2 L102.56,453.3 L104.05,442.4 L105.55,431.8 L107.04,421.5 L108.53,411.5 L110.02,401.7 L111.52,392.2 L113.01,382.9 L114.50,373.9 L116.00,365.1 L117.49,356.5 L118.98,348.1 L120.48,340.0 L121.97,332.1 L123.46,324.4 L124.95,316.9 L126.45,309.5 L127.94,302.4 L129.43,295.4 L130.93,288.7 L132.42,282.1 L133.91,275.7 L135.41,269.4 L136.90,263.3 L138.39,257.4 L139.89,251.6 L141.38,246.0 L142.87,240.5 L144.36,235.2 L145.86,229.9 L147.35,224.9 L148.84,219.9 L150.34,215.1 L151.83,210.4 L153.32,205.9 L154.82,201.4 L156.31,197.1 L157.80,192.9 L159.29,188.8 L160.79,184.8 L162.28,180.9 L163.77,177.1 L165.27,173.4 L166.76,169.8 L168.25,166.3 L169.75,162.9 L171.24,159.5 L172.73,156.3 L174.22,153.1 L175.72,150.1 L177.21,147.1 L178.70,144.2 L180.20,141.3 L181.69,138.5 L183.18,135.8 L184.68,133.2 L186.17,130.7 L187.66,128.2 L189.15,125.7 L190.65,123.4 L192.14,121.1 L193.63,118.8 L195.13,116.6 L196.62,114.5 L198.11,112.4 L199.61,110.4 L201.10,108.4 L202.59,106.5 L204.09,104.7 L205.58,102.8 L207.07,101.1 L208.56,99.3 L210.06,97.7 L211.55,96.0 L213.04,94.4 L214.54,92.9 L216.03,91.4 L217.52,89.9 L219.02,88.5 L220.51,87.1 L222.00,85.7 L223.49,84.4 L224.99,83.1 L226.48,81.8 L227.97,80.6 L229.47,79.4 L230.96,78.2 L232.45,77.1 L233.95,76.0 L235.44,74.9 L236.93,73.9 L238.42,72.9 L239.92,71.9 L241.41,70.9 L242.90,70.0 L244.40,69.0 L245.89,68.1 L247.38,67.3 L248.88,66.4 L250.37,65.6 L251.86,64.8 L253.35,64.0 L254.85,63.2 L256.34,62.5 L257.83,61.8 L259.33,61.1 L260.82,60.4 L262.31,59.7 L263.81,59.1 L265.30,58.4 L266.79,57.8 L268.29,57.2 L269.78,56.6 L271.27,56.0 L272.76,55.5 L274.26,54.9 L275.75,54.4 L277.24,53.9 L278.74,53.4 L280.23,52.9 L281.72,52.4 L283.22,52.0 L284.71,51.5 L286.20,51.1 L287.69,50.6 L289.19,50.2 L290.68,49.8 L292.17,49.4 L293.67,49.0 L295.16,48.7 L296.65,48.3 L298.15,47.9 L299.64,47.6 L301.13,47.3 L302.62,46.9 L304.12,46.6 L305.61,46.3 L307.10,46.0 L308.60,45.7 L310.09,45.4 L311.58,45.1 L313.08,44.8 L314.57,44.6 L316.06,44.3 L316.99,44.2 L328.19,46.2 L339.39,48.2 L350.59,50.2 L361.79,52.2 L372.98,54.2 L384.18,56.2 L395.38,58.2 L406.58,60.2 L417.77,62.1 L428.97,64.1 L440.17,66.1 L451.37,68.0 L462.56,69.9 L473.76,71.9 L484.96,73.8 L496.16,75.7 L507.36,77.6 L518.55,79.5 L529.75,81.4 L540.95,83.3 L552.15,85.2 L563.34,87.0 L574.54,88.9 L585.74,90.8 L596.94,92.6 L608.13,94.4 L619.33,96.3 L630.53,98.1 L641.73,99.9 L652.93,101.7 L664.12,103.5 L675.32,105.3 L686.52,107.1 L697.72,108.9 L708.91,110.7 L720.11,112.4 L731.31,114.2 L742.51,116.0 L753.70,117.7 L764.90,119.4 L776.10,121.2 L776.47,121.2" stroke="#1c1cdc" stroke-width="2.25"/>
<path d="M67.29,559.8 L88.00,559.8 L89.12,553.6 L90.62,545.3 L92.11,537.0 L93.60,528.7 L95.09,520.4 L96.59,512.1 L98.08,503.8 L99.57,495.5 L101.07,487.2 L102.56,478.9 L104.05,470.6 L105.55,462.4 L107.04,454.3 L108.53,446.4 L110.02,438.7 L111.52,431.2 L113.01,423.8 L114.50,416.5 L116.00,409.5 L117.49,402.6 L118.98,395.8 L120.48,389.2 L121.97,382.7 L123.46,376.3 L124.95,370.1 L126.45,364.1 L127.94,358.1 L129.43,352.3 L130.93,346.6 L132.42,341.1 L133.91,335.6 L135.41,330.3 L136.90,325.1 L138.39,320.0 L139.89,315.0 L141.38,310.1 L142.87,305.4 L144.36,300.7 L145.86,296.1 L147.35,291.6 L148.84,287.3 L150.34,283.0 L151.83,278.8 L153.32,274.7 L154.82,270.7 L156.31,266.8 L157.80,262.9 L159.29,259.2 L160.79,255.5 L162.28,251.9 L163.77,248.4 L165.27,244.9 L166.76,241.6 L168.25,238.3 L169.75,235.1 L171.24,231.9 L172.73,228.8 L174.22,225.8 L175.72,222.8 L177.21,220.0 L178.70,217.1 L180.20,214.4 L181.69,211.7 L183.18,209.0 L184.68,206.4 L186.17,203.9 L187.66,201.4 L189.15,199.0 L190.65,196.6 L192.14,194.3 L193.63,192.0 L195.13,189.8 L196.62,187.6 L198.11,185.5 L199.61,183.4 L201.10,181.3 L202.59,179.3 L204.09,177.4 L205.58,175.5 L207.07,173.6 L208.56,171.8 L210.06,170.0 L211.55,168.3 L213.04,166.5 L214.54,164.9 L216.03,163.2 L217.52,161.6 L219.02,160.1 L220.51,158.5 L222.00,157.0 L223.49,155.5 L224.99,154.1 L226.48,152.7 L227.97,151.3 L229.47,150.0 L230.96,148.7 L232.45,147.4 L233.95,146.1 L235.44,144.9 L236.93,143.7 L238.42,142.5 L239.92,141.3 L241.41,140.2 L242.90,139.1 L244.40,138.0 L245.89,136.9 L247.38,135.9 L248.88,134.9 L250.37,133.9 L251.86,132.9 L253.35,132.0 L254.85,131.1 L256.34,130.1 L257.83,129.3 L259.33,128.4 L260.82,127.5 L262.31,126.7 L263.81,125.9 L265.30,125.1 L266.79,124.3 L268.29,123.5 L269.78,122.8 L271.27,122.1 L272.76,121.4 L274.26,120.7 L275.75,120.0 L277.24,119.3 L278.74,118.6 L280.23,118.0 L281.72,117.4 L283.22,116.8 L284.71,116.2 L286.20,115.6 L287.69,115.0 L289.19,114.4 L290.68,113.9 L292.17,113.3 L293.67,112.8 L295.16,112.3 L296.65,111.8 L298.15,111.3 L299.64,110.8 L301.13,110.3 L302.62,109.9 L304.12,109.4 L305.61,109.0 L307.10,108.6 L308.60,108.1 L310.09,107.7 L311.58,107.3 L313.08,106.9 L314.57,106.5 L316.06,106.1 L316.99,105.9 L328.19,107.3 L339.39,108.6 L350.59,110.0 L361.79,111.3 L372.98,112.7 L384.18,114.0 L395.38,115.4 L406.58,116.7 L417.77,118.0 L428.97,119.4 L440.17,120.7 L451.37,122.0 L462.56,123.3 L473.76,124.6 L484.96,125.9 L496.16,127.2 L507.36,128.5 L518.55,129.8 L529.75,131.1 L540.95,132.4 L552.15,133.7 L563.34,135.0 L574.54,136.3 L585.74,137.5 L596.94,138.8 L608.13,140.1 L619.33,141.3 L630.53,142.6 L641.73,143.8 L652.93,145.1 L664.12,146.3 L675.32,147.6 L686.52,148.8 L697.72,150.0 L708.91,151.3 L720.11,152.5 L731.31,153.7 L742.51,154.9 L753.70,156.2 L764.90,157.4 L776.10,158.6 L776.47,158.6" stroke="#20e620" stroke-width="2.25"/>
<path d="M67.29,559.8 L88.00,559.8 L89.12,555.8 L90.62,550.4 L92.11,545.0 L93.60,539.6 L95.09,534.2 L96.59,528.8 L98.08,523.5 L99.57,518.1 L101.07,512.7 L102.56,507.3 L104.05,501.9 L105.55,496.5 L107.04,491.2 L108.53,485.8 L110.02,480.6 L111.52,475.4 L113.01,470.3 L114.50,465.2 L116.00,460.3 L117.49,455.4 L118.98,450.6 L120.48,445.9 L121.97,441.2 L123.46,436.7 L124.95,432.2 L126.45,427.7 L127.94,423.4 L129.43,419.0 L130.93,414.8 L132.42,410.6 L133.91,406.5 L135.41,402.5 L136.90,398.5 L138.39,394.6 L139.89,390.7 L141.38,386.9 L142.87,383.2 L144.36,379.5 L145.86,375.9 L147.35,372.3 L148.84,368.8 L150.34,365.3 L151.83,361.9 L153.32,358.5 L154.82,355.2 L156.31,352.0 L157.80,348.8 L159.29,345.6 L160.79,342.5 L162.28,339.4 L163.77,336.4 L165.27,333.5 L166.76,330.5 L168.25,327.7 L169.75,324.8 L171.24,322.0 L172.73,319.3 L174.22,316.6 L175.72,313.9 L177.21,311.3 L178.70,308.7 L180.20,306.2 L181.69,303.7 L183.18,301.2 L184.68,298.8 L186.17,296.4 L187.66,294.1 L189.15,291.7 L190.65,289.5 L192.14,287.2 L193.63,285.0 L195.13,282.8 L196.62,280.7 L198.11,278.6 L199.61,276.5 L201.10,274.5 L202.59,272.4 L204.09,270.5 L205.58,268.5 L207.07,266.6 L208.56,264.7 L210.06,262.8 L211.55,261.0 L213.04,259.2 L214.54,257.4 L216.03,255.6 L217.52,253.9 L219.02,252.2 L220.51,250.6 L222.00,248.9 L223.49,247.3 L224.99,245.7 L226.48,244.1 L227.97,242.6 L229.47,241.0 L230.96,239.5 L232.45,238.1 L233.95,236.6 L235.44,235.2 L236.93,233.8 L238.42,232.4 L239.92,231.0 L241.41,229.7 L242.90,228.3 L244.40,227.0 L245.89,225.8 L247.38,224.5 L248.88,223.2 L250.37,222.0 L251.86,220.8 L253.35,219.6 L254.85,218.5 L256.34,217.3 L257.83,216.2 L259.33,215.0 L260.82,213.9 L262.31,212.9 L263.81,211.8 L265.30,210.7 L266.79,209.7 L268.29,208.7 L269.78,207.7 L271.27,206.7 L272.76,205.7 L274.26,204.8 L275.75,203.8 L277.24,202.9 L278.74,202.0 L280.23,201.1 L281.72,200.2 L283.22,199.3 L284.71,198.5 L286.20,197.6 L287.69,196.8 L289.19,196.0 L290.68,195.2 L292.17,194.4 L293.67,193.6 L295.16,192.8 L296.65,192.1 L298.15,191.3 L299.64,190.6 L301.13,189.9 L302.62,189.1 L304.12,188.4 L305.61,187.7 L307.10,187.1 L308.60,186.4 L310.09,185.7 L311.58,185.1 L313.08,184.4 L314.57,183.8 L316.06,183.2 L316.99,182.8 L328.19,183.4 L339.39,184.0 L350.59,184.6 L361.79,185.1 L372.98,185.7 L384.18,186.3 L395.38,186.9 L406.58,187.4 L417.77,188.0 L428.97,188.6 L440.17,189.2 L451.37,189.7 L462.56,190.3 L473.76,190.9 L484.96,191.4 L496.16,192.0 L507.36,192.6 L518.55,193.1 L529.75,193.7 L540.95,194.3 L552.15,194.8 L563.34,195.4 L574.54,196.0 L585.74,196.5 L596.94,197.1 L608.13,197.6 L619.33,198.2 L630.53,198.8 L641.73,199.3 L652.93,199.9 L664.12,200.4 L675.32,201.0 L686.52,201.5 L697.72,202.1 L708.91,202.6 L720.11,203.2 L731.31,203.7 L742.51,204.3 L753.70,204.8 L764.90,205.4 L776.10,205.9 L776.47,205.9" stroke="#fbd437" stroke-width="2.25"/>
<path d="M67.29,559.8 L88.00,559.8 L89.12,557.6 L90.62,554.8 L92.11,551.9 L93.60,549.0 L95.09,546.2 L96.59,543.3 L98.08,540.4 L99.57,537.6 L101.07,534.7 L102.56,531.8 L104.05,528.9 L105.55,526.1 L107.04,523.2 L108.53,520.3 L110.02,517.5 L111.52,514.6 L113.01,511.8 L114.50,509.0 L116.00,506.3 L117.49,503.6 L118.98,500.9 L120.48,498.2 L121.97,495.6 L123.46,493.0 L124.95,490.4 L126.45,487.9 L127.94,485.4 L129.43,482.9 L130.93,480.5 L132.42,478.1 L133.91,475.7 L135.41,473.3 L136.90,471.0 L138.39,468.7 L139.89,466.4 L141.38,464.1 L142.87,461.9 L144.36,459.7 L145.86,457.5 L147.35,455.4 L148.84,453.3 L150.34,451.2 L151.83,449.1 L153.32,447.1 L154.82,445.0 L156.31,443.0 L157.80,441.0 L159.29,439.1 L160.79,437.2 L162.28,435.2 L163.77,433.4 L165.27,431.5 L166.76,429.6 L168.25,427.8 L169.75,426.0 L171.24,424.2 L172.73,422.5 L174.22,420.7 L175.72,419.0 L177.21,417.3 L178.70,415.6 L180.20,414.0 L181.69,412.3 L183.18,410.7 L184.68,409.1 L186.17,407.5 L187.66,406.0 L189.15,404.4 L190.65,402.9 L192.14,401.4 L193.63,399.9 L195.13,398.4 L196.62,397.0 L198.11,395.5 L199.61,394.1 L201.10,392.7 L202.59,391.3 L204.09,389.9 L205.58,388.6 L207.07,387.2 L208.56,385.9 L210.06,384.6 L211.55,383.3 L213.04,382.0 L214.54,380.7 L216.03,379.5 L217.52,378.2 L219.02,377.0 L220.51,375.8 L222.00,374.6 L223.49,373.4 L224.99,372.3 L226.48,371.1 L227.97,370.0 L229.47,368.8 L230.96,367.7 L232.45,366.6 L233.95,365.5 L235.44,364.5 L236.93,363.4 L238.42,362.4 L239.92,361.3 L241.41,360.3 L242.90,359.3 L244.40,358.3 L245.89,357.3 L247.38,356.3 L248.88,355.3 L250.37,354.4 L251.86,353.4 L253.35,352.5 L254.85,351.6 L256.34,350.7 L257.83,349.8 L259.33,348.9 L260.82,348.0 L262.31,347.1 L263.81,346.3 L265.30,345.4 L266.79,344.6 L268.29,343.8 L269.78,342.9 L271.27,342.1 L272.76,341.3 L274.26,340.5 L275.75,339.7 L277.24,339.0 L278.74,338.2 L280.23,337.5 L281.72,336.7 L283.22,336.0 L284.71,335.2 L286.20,334.5 L287.69,333.8 L289.19,333.1 L290.68,332.4 L292.17,331.7 L293.67,331.0 L295.16,330.4 L296.65,329.7 L298.15,329.0 L299.64,328.4 L301.13,327.8 L302.62,327.1 L304.12,326.5 L305.61,325.9 L307.10,325.3 L308.60,324.7 L310.09,324.1 L311.58,323.5 L313.08,322.9 L314.57,322.3 L316.06,321.7 L316.99,321.4 L328.19,321.7 L339.39,322.1 L350.59,322.4 L361.79,322.8 L372.98,323.1 L384.18,323.4 L395.38,323.8 L406.58,324.1 L417.77,324.5 L428.97,324.8 L440.17,325.1 L451.37,325.5 L462.56,325.8 L473.76,326.2 L484.96,326.5 L496.16,326.8 L507.36,327.2 L518.55,327.5 L529.75,327.8 L540.95,328.2 L552.15,328.5 L563.34,328.8 L574.54,329.2 L585.74,329.5 L596.94,329.8 L608.13,330.2 L619.33,330.5 L630.53,330.8 L641.73,331.2 L652.93,331.5 L664.12,331.8 L675.32,332.1 L686.52,332.5 L697.72,332.8 L708.91,333.1 L720.11,333.5 L731.31,333.8 L742.51,334.1 L753.70,334.4 L764.90,334.8 L776.10,335.1 L776.47,335.1" stroke="#2fe3e3" stroke-width="2.25"/>
<path d="M67.29,559.8 L88.00,559.8 L89.12,558.6 L90.62,557.0 L92.11,555.4 L93.60,553.8 L95.09,552.2 L96.59,550.6 L98.08,549.0 L99.57,547.4 L101.07,545.8 L102.56,544.2 L104.05,542.6 L105.55,541.0 L107.04,539.4 L108.53,537.8 L110.02,536.2 L111.52,534.7 L113.01,533.1 L114.50,531.5 L116.00,529.9 L117.49,528.3 L118.98,526.8 L120.48,525.2 L121.97,523.7 L123.46,522.2 L124.95,520.7 L126.45,519.2 L127.94,517.7 L129.43,516.2 L130.93,514.8 L132.42,513.3 L133.91,511.9 L135.41,510.5 L136.90,509.1 L138.39,507.7 L139.89,506.3 L141.38,504.9 L142.87,503.6 L144.36,502.2 L145.86,500.9 L147.35,499.6 L148.84,498.2 L150.34,496.9 L151.83,495.7 L153.32,494.4 L154.82,493.1 L156.31,491.8 L157.80,490.6 L159.29,489.3 L160.79,488.1 L162.28,486.9 L163.77,485.7 L165.27,484.5 L166.76,483.3 L168.25,482.1 L169.75,481.0 L171.24,479.8 L172.73,478.7 L174.22,477.5 L175.72,476.4 L177.21,475.3 L178.70,474.1 L180.20,473.0 L181.69,472.0 L183.18,470.9 L184.68,469.8 L186.17,468.7 L187.66,467.7 L189.15,466.6 L190.65,465.6 L192.14,464.6 L193.63,463.5 L195.13,462.5 L196.62,461.5 L198.11,460.5 L199.61,459.5 L201.10,458.6 L202.59,457.6 L204.09,456.6 L205.58,455.7 L207.07,454.7 L208.56,453.8 L210.06,452.8 L211.55,451.9 L213.04,451.0 L214.54,450.1 L216.03,449.2 L217.52,448.3 L219.02,447.4 L220.51,446.5 L222.00,445.7 L223.49,444.8 L224.99,444.0 L226.48,443.1 L227.97,442.3 L229.47,441.4 L230.96,440.6 L232.45,439.8 L233.95,439.0 L235.44,438.2 L236.93,437.4 L238.42,436.6 L239.92,435.8 L241.41,435.0 L242.90,434.2 L244.40,433.5 L245.89,432.7 L247.38,431.9 L248.88,431.2 L250.37,430.4 L251.86,429.7 L253.35,429.0 L254.85,428.3 L256.34,427.5 L257.83,426.8 L259.33,426.1 L260.82,425.4 L262.31,424.7 L263.81,424.0 L265.30,423.4 L266.79,422.7 L268.29,422.0 L269.78,421.3 L271.27,420.7 L272.76,420.0 L274.26,419.4 L275.75,418.7 L277.24,418.1 L278.74,417.5 L280.23,416.8 L281.72,416.2 L283.22,415.6 L284.71,415.0 L286.20,414.4 L287.69,413.8 L289.19,413.2 L290.68,412.6 L292.17,412.0 L293.67,411.4 L295.16,410.9 L296.65,410.3 L298.15,409.7 L299.64,409.1 L301.13,408.6 L302.62,408.0 L304.12,407.5 L305.61,406.9 L307.10,406.4 L308.60,405.9 L310.09,405.3 L311.58,404.8 L313.08,404.3 L314.57,403.8 L316.06,403.3 L316.99,402.9 L328.19,403.0 L339.39,403.0 L350.59,403.1 L361.79,403.1 L372.98,403.1 L384.18,403.2 L395.38,403.2 L406.58,403.3 L417.77,403.3 L428.97,403.3 L440.17,403.4 L451.37,403.4 L462.56,403.5 L473.76,403.5 L484.96,403.5 L496.16,403.6 L507.36,403.6 L518.55,403.7 L529.75,403.7 L540.95,403.7 L552.15,403.8 L563.34,403.8 L574.54,403.9 L585.74,403.9 L596.94,403.9 L608.13,404.0 L619.33,404.0 L630.53,404.1 L641.73,404.1 L652.93,404.1 L664.12,404.2 L675.32,404.2 L686.52,404.2 L697.72,404.3 L708.91,404.3 L720.11,404.4 L731.31,404.4 L742.51,404.4 L753.70,404.5 L764.90,404.5 L776.10,404.6 L776.47,404.6" stroke="#e326e3" stroke-width="2.25"/>
<path d="M67.29,559.8 L88.00,559.8 L89.12,559.2 L90.62,558.3 L92.11,557.5 L93.60,556.7 L95.09,555.8 L96.59,555.0 L98.08,554.2 L99.57,553.3 L101.07,552.5 L102.56,551.7 L104.05,550.8 L105.55,550.0 L107.04,549.2 L108.53,548.3 L110.02,547.5 L111.52,546.7 L113.01,545.8 L114.50,545.0 L116.00,544.2 L117.49,543.3 L118.98,542.5 L120.48,541.7 L121.97,540.9 L123.46,540.1 L124.95,539.3 L126.45,538.5 L127.94,537.7 L129.43,536.9 L130.93,536.1 L132.42,535.3 L133.91,534.5 L135.41,533.8 L136.90,533.0 L138.39,532.2 L139.89,531.5 L141.38,530.7 L142.87,530.0 L144.36,529.3 L145.86,528.5 L147.35,527.8 L148.84,527.1 L150.34,526.3 L151.83,525.6 L153.32,524.9 L154.82,524.2 L156.31,523.5 L157.80,522.8 L159.29,522.1 L160.79,521.4 L162.28,520.8 L163.77,520.1 L165.27,519.4 L166.76,518.7 L168.25,518.1 L169.75,517.4 L171.24,516.8 L172.73,516.1 L174.22,515.5 L175.72,514.8 L177.21,514.2 L178.70,513.5 L180.20,512.9 L181.69,512.3 L183.18,511.7 L184.68,511.0 L186.17,510.4 L187.66,509.8 L189.15,509.2 L190.65,508.6 L192.14,508.0 L193.63,507.4 L195.13,506.8 L196.62,506.2 L198.11,505.7 L199.61,505.1 L201.10,504.5 L202.59,503.9 L204.09,503.4 L205.58,502.8 L207.07,502.3 L208.56,501.7 L210.06,501.1 L211.55,500.6 L213.04,500.1 L214.54,499.5 L216.03,499.0 L217.52,498.4 L219.02,497.9 L220.51,497.4 L222.00,496.9 L223.49,496.3 L224.99,495.8 L226.48,495.3 L227.97,494.8 L229.47,494.3 L230.96,493.8 L232.45,493.3 L233.95,492.8 L235.44,492.3 L236.93,491.8 L238.42,491.3 L239.92,490.9 L241.41,490.4 L242.90,489.9 L244.40,489.4 L245.89,489.0 L247.38,488.5 L248.88,488.0 L250.37,487.6 L251.86,487.1 L253.35,486.6 L254.85,486.2 L256.34,485.7 L257.83,485.3 L259.33,484.9 L260.82,484.4 L262.31,484.0 L263.81,483.5 L265.30,483.1 L266.79,482.7 L268.29,482.3 L269.78,481.8 L271.27,481.4 L272.76,481.0 L274.26,480.6 L275.75,480.2 L277.24,479.8 L278.74,479.4 L280.23,479.0 L281.72,478.6 L283.22,478.2 L284.71,477.8 L286.20,477.4 L287.69,477.0 L289.19,476.6 L290.68,476.2 L292.17,475.8 L293.67,475.4 L295.16,475.1 L296.65,474.7 L298.15,474.3 L299.64,473.9 L301.13,473.6 L302.62,473.2 L304.12,472.8 L305.61,472.5 L307.10,472.1 L308.60,471.8 L310.09,471.4 L311.58,471.1 L313.08,470.7 L314.57,470.4 L316.06,470.0 L316.99,469.8 L328.19,469.9 L339.39,470.0 L350.59,470.1 L361.79,470.2 L372.98,470.3 L384.18,470.5 L395.38,470.6 L406.58,470.7 L417.77,470.8 L428.97,470.9 L440.17,471.0 L451.37,471.1 L462.56,471.2 L473.76,471.3 L484.96,471.4 L496.16,471.5 L507.36,471.6 L518.55,471.7 L529.75,471.8 L540.95,471.9 L552.15,472.0 L563.34,472.1 L574.54,472.2 L585.74,472.4 L596.94,472.5 L608.13,472.6 L619.33,472.7 L630.53,472.8 L641.73,472.9 L652.93,473.0 L664.12,473.1 L675.32,473.2 L686.52,473.3 L697.72,473.4 L708.91,473.5 L720.11,473.6 L731.31,473.7 L742.51,473.8 L753.70,473.9 L764.90,474.0 L776.10,474.1 L776.47,474.1" stroke="#8a2be2" stroke-width="2.25"/>
</g>
<g stroke="#2a2a2a" fill="none" stroke-width="1.15">
<rect x="60.39" y="12.3" width="722.95" height="555.5"/>
<path d="M67.29,567.8v7.4M85.95,567.8v4.3M104.61,567.8v4.3M123.28,567.8v4.3M141.94,567.8v7.4M160.60,567.8v4.3M179.26,567.8v4.3M197.93,567.8v4.3M216.59,567.8v7.4M235.25,567.8v4.3M253.91,567.8v4.3M272.58,567.8v4.3M291.24,567.8v7.4M309.90,567.8v4.3M328.57,567.8v4.3M347.23,567.8v4.3M365.89,567.8v7.4M384.55,567.8v4.3M403.22,567.8v4.3M421.88,567.8v4.3M440.54,567.8v7.4M459.21,567.8v4.3M477.87,567.8v4.3M496.53,567.8v4.3M515.19,567.8v7.4M533.86,567.8v4.3M552.52,567.8v4.3M571.18,567.8v4.3M589.84,567.8v7.4M608.51,567.8v4.3M627.17,567.8v4.3M645.83,567.8v4.3M664.50,567.8v7.4M683.16,567.8v4.3M701.82,567.8v4.3M720.48,567.8v4.3M739.15,567.8v7.4M757.81,567.8v4.3M776.47,567.8v4.3M60.39,560.1h-7.44M60.39,542.2h-4.11M60.39,524.2h-4.11M60.39,506.3h-4.11M60.39,488.4h-4.11M60.39,470.5h-7.44M60.39,452.5h-4.11M60.39,434.6h-4.11M60.39,416.7h-4.11M60.39,398.8h-4.11M60.39,380.8h-7.44M60.39,362.9h-4.11M60.39,345.0h-4.11M60.39,327.1h-4.11M60.39,309.1h-4.11M60.39,291.2h-7.44M60.39,273.3h-4.11M60.39,255.4h-4.11M60.39,237.4h-4.11M60.39,219.5h-4.11M60.39,201.6h-7.44M60.39,183.7h-4.11M60.39,165.7h-4.11M60.39,147.8h-4.11M60.39,129.9h-4.11M60.39,112.0h-7.44M60.39,94.0h-4.11M60.39,76.1h-4.11M60.39,58.2h-4.11M60.39,40.2h-4.11M60.39,22.3h-7.44"/>
</g>
<g font-family="'Liberation Sans', sans-serif" fill="#303030" font-size="17.4">
<text transform="translate(67.69,598.4) scale(1.000,1.065)" text-anchor="middle">0</text>
<text transform="translate(142.34,598.4) scale(1.000,1.065)" text-anchor="middle">200</text>
<text transform="translate(216.99,598.4) scale(1.000,1.065)" text-anchor="middle">400</text>
<text transform="translate(291.64,598.4) scale(1.000,1.065)" text-anchor="middle">600</text>
<text transform="translate(366.29,598.4) scale(1.000,1.065)" text-anchor="middle">800</text>
<text transform="translate(440.94,598.4) scale(1.000,1.065)" text-anchor="middle">1000</text>
<text transform="translate(515.59,598.4) scale(1.000,1.065)" text-anchor="middle">1200</text>
<text transform="translate(590.24,598.4) scale(1.000,1.065)" text-anchor="middle">1400</text>
<text transform="translate(664.90,598.4) scale(1.000,1.065)" text-anchor="middle">1600</text>
<text transform="translate(739.55,598.4) scale(1.000,1.065)" text-anchor="middle">1800</text>
<text transform="translate(49.46,567.4) scale(1.000,1.120)" text-anchor="end">0</text>
<text transform="translate(49.46,477.8) scale(1.000,1.120)" text-anchor="end">10</text>
<text transform="translate(49.46,388.1) scale(1.000,1.120)" text-anchor="end">20</text>
<text transform="translate(49.46,298.5) scale(1.000,1.120)" text-anchor="end">30</text>
<text transform="translate(49.46,208.9) scale(1.000,1.120)" text-anchor="end">40</text>
<text transform="translate(49.46,119.3) scale(1.000,1.120)" text-anchor="end">50</text>
<text transform="translate(49.46,29.6) scale(1.000,1.120)" text-anchor="end">60</text>
<text transform="translate(422.17,620.9) scale(0.980,1.065)" text-anchor="middle">Time(s)</text>
<text transform="translate(25.58,290.1) rotate(-90) scale(0.978,1.09)" text-anchor="middle" font-size="17.5">Response unit(RU)</text>
</g>
</g>
</g>
</svg>
</body>
</html>
